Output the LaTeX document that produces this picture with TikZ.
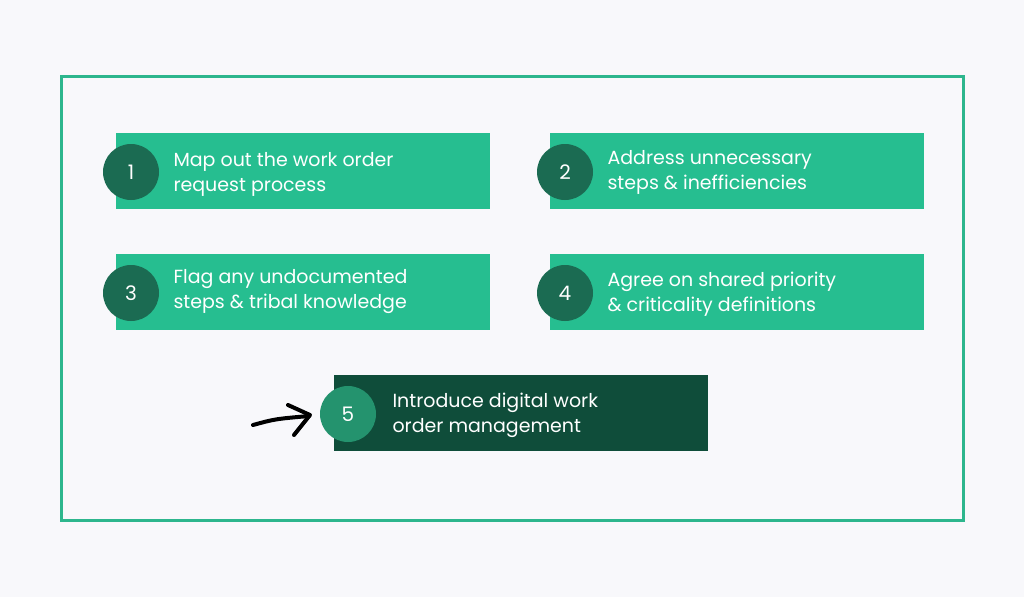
\documentclass[tikz,border=0pt]{standalone}
\usepackage{fontspec}
\setmainfont{Poppins}
\usetikzlibrary{positioning}
\definecolor{pagebg}{RGB}{248, 248, 251}
\definecolor{framegreen}{RGB}{45, 182, 141}
\definecolor{stepgreen}{RGB}{38, 190, 144}
\definecolor{darkstep}{RGB}{15, 77, 58}
\definecolor{badgedark}{RGB}{27, 107, 82}
\definecolor{badgelight}{RGB}{36, 147, 110}

\begin{document}
\begin{tikzpicture}[
    x=1pt, y=-1pt,
    stepbox/.style={fill=stepgreen, draw=none, minimum width=374pt, minimum height=76pt, inner sep=0pt},
    finalbox/.style={stepbox, fill=darkstep},
    badge/.style={circle, fill=badgedark, minimum size=56pt, inner sep=0pt, text=white, font=\fontsize{20}{20}\selectfont},
    steptext/.style={text=white, anchor=west, align=left, font=\fontsize{19}{25}\selectfont}
]
    % Background and frame
    \fill[pagebg] (0,0) rectangle (1024,597);
    \draw[framegreen, line width=3pt] (61,76) rectangle (963,520);

    % Steps 1 and 2
    \node[stepbox] (box1) at (303,171) {};
    \node[badge] (num1) at (131,172) {1};
    \node[steptext] (txt1) at (170,174) {Map out the work order\\request process};

    \node[stepbox] (box2) at (737,171) {};
    \node[badge] (num2) at (565,172) {2};
    \node[steptext] (txt2) at (604,172) {Address unnecessary\\steps \& inefficiencies};

    % Steps 3 and 4
    \node[stepbox] (box3) at (303,292) {};
    \node[badge] (num3) at (131,293) {3};
    \node[steptext] (txt3) at (170,292) {Flag any undocumented\\steps \& tribal knowledge};

    \node[stepbox] (box4) at (737,292) {};
    \node[badge] (num4) at (565,293) {4};
    \node[steptext] (txt4) at (604,294) {Agree on shared priority\\\& criticality definitions};

    % Step 5
    \node[finalbox] (box5) at (520.5,413) {};
    \node[badge, fill=badgelight] (num5) at (348,414) {5};
    \node[steptext] (txt5) at (389,415) {Introduce digital work\\order management};

    % Hand-drawn pointer
    \coordinate (tail) at (253,425);
    \draw[line width=4pt, line cap=round, line join=round]
        (tail) .. controls (275,419) .. (309,416);
    \draw[line width=4pt, line cap=round, line join=round]
        (288,405) -- (310,415) -- (294,435);
\end{tikzpicture}
\end{document}
